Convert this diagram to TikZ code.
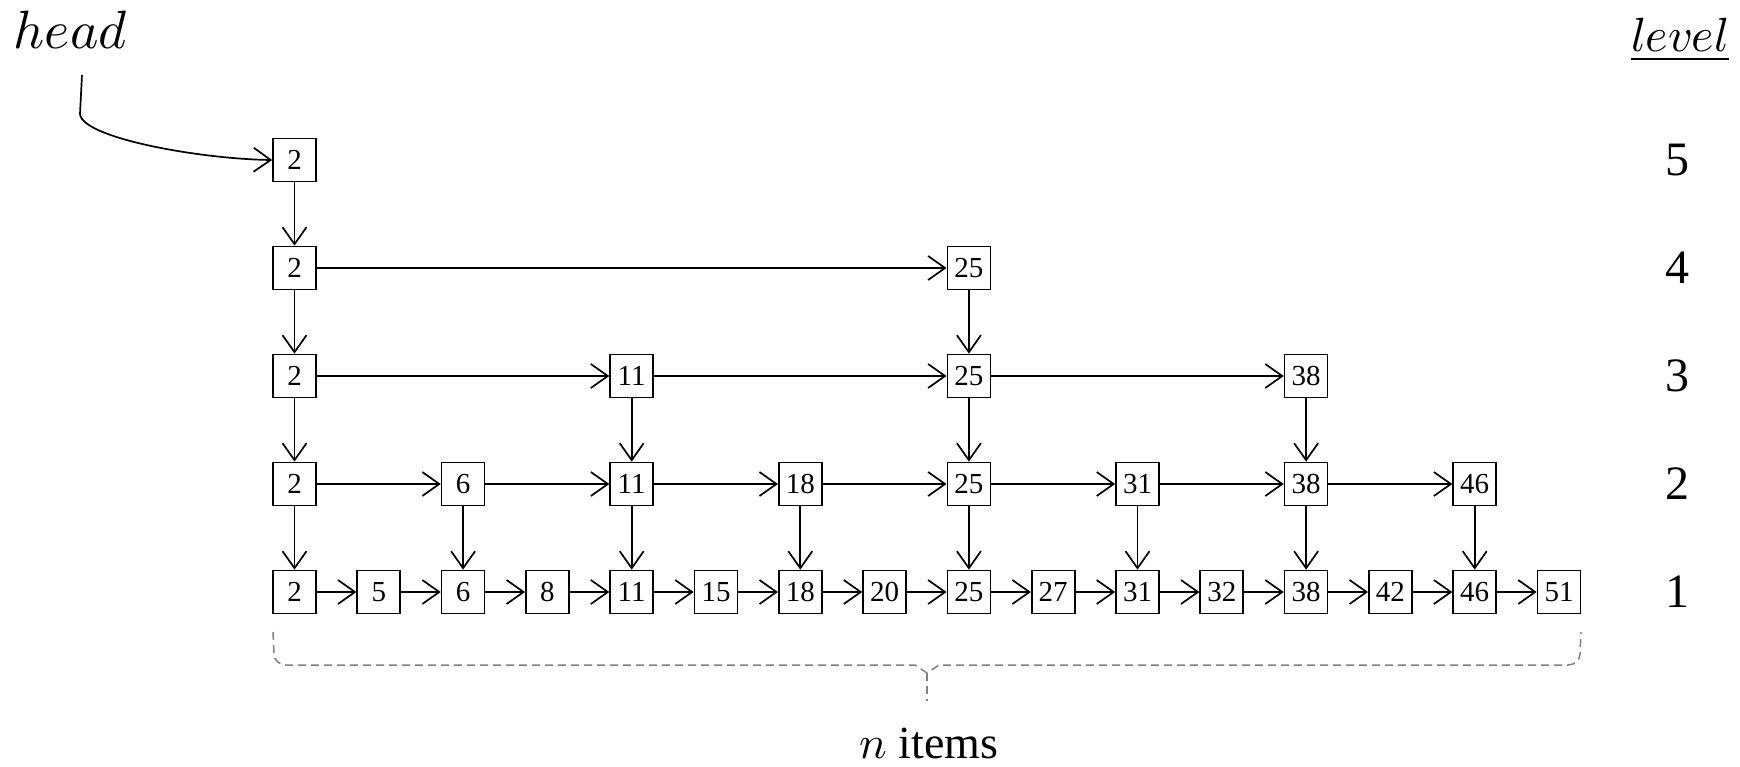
\documentclass[tikz,border=0pt]{standalone}
\usepackage{fontspec}
\usepackage{unicode-math}
\setmainfont{Liberation Serif}
\setmathfont{Latin Modern Math}
\usetikzlibrary{arrows.meta}
\begin{document}
\begin{tikzpicture}[x=1pt,y=-1pt,
  box/.style={draw,line width=1.7pt,minimum size=43pt,inner sep=0pt,font=\fontsize{29}{29}\selectfont},
  link/.style={line width=1.7pt,-{Straight Barb[length=17pt,width=24pt,line width=1.7pt]}},
  lvl/.style={font=\fontsize{48}{48}\selectfont},
  bigtxt/.style={font=\fontsize{46}{46}\selectfont},
  bracepath/.style={draw=black!50,line width=1.5pt,dash pattern=on 8pt off 5pt}]
\useasboundingbox (0,0) rectangle (1740,766);

% level 1
\foreach \c/\v in {0/2,1/5,2/6,3/8,4/11,5/15,6/18,7/20,8/25,9/27,10/31,11/32,12/38,13/42,14/46,15/51}
  \node[box] (n1-\c) at ({294.5+84.3*\c},592) {\v};
% level 2
\foreach \c/\v in {0/2,2/6,4/11,6/18,8/25,10/31,12/38,14/46}
  \node[box] (n2-\c) at ({294.5+84.3*\c},484) {\v};
% level 3
\foreach \c/\v in {0/2,4/11,8/25,12/38}
  \node[box] (n3-\c) at ({294.5+84.3*\c},376) {\v};
% level 4
\foreach \c/\v in {0/2,8/25}
  \node[box] (n4-\c) at ({294.5+84.3*\c},268) {\v};
% level 5
\node[box] (n5-0) at (294.5,160) {2};

% horizontal links
\foreach \a [evaluate=\a as \b using int(\a+1)] in {0,...,14}
  \draw[link] (n1-\a) -- (n1-\b);
\foreach \a [evaluate=\a as \b using int(\a+2)] in {0,2,...,12}
  \draw[link] (n2-\a) -- (n2-\b);
\foreach \a [evaluate=\a as \b using int(\a+4)] in {0,4,8}
  \draw[link] (n3-\a) -- (n3-\b);
\draw[link] (n4-0) -- (n4-8);

% vertical links
\foreach \c in {0,2,...,14}
  \draw[link] (n2-\c) -- (n1-\c);
\foreach \c in {0,4,8,12}
  \draw[link] (n3-\c) -- (n2-\c);
\foreach \c in {0,8}
  \draw[link] (n4-\c) -- (n3-\c);
\draw[link] (n5-0) -- (n4-0);

% head
\node[font=\fontsize{54}{54}\selectfont] (head) at (71,30) {$head$};
\coordinate (hs) at (82,75);
\coordinate (hb) at (80,114);
\draw[link] (hs) -- (hb) .. controls (82,138) and (200,159) .. (n5-0.west);

% level labels
\node[font=\fontsize{48}{48}\selectfont] (lvlt) at (1680,40) {\underline{$level$}};
\foreach \L/\y in {5/160,4/268,3/376,2/484,1/592}
  \node[lvl] (lv\L) at (1677,\y) {\L};

% brace
\coordinate (bl) at (273,632);
\coordinate (br) at (1581,632);
\coordinate (bm) at (927,673);
\coordinate (bt) at (927,701);
\draw[bracepath] (bl) -- (274,654) to[out=-90,in=180] (286,665) -- (915,665) -- (bm) -- (939,665)
  -- (1568,665) to[out=0,in=-90] (1580,654) -- (br);
\draw[bracepath] (bm) -- (bt);
\node[bigtxt] (items) at (929,744) {$n$ items};
\end{tikzpicture}
\end{document}
